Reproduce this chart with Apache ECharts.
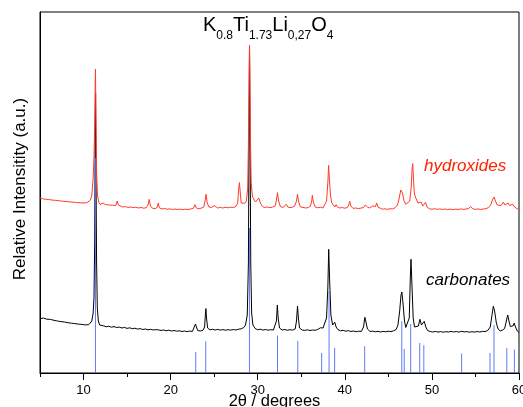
<!DOCTYPE html>
<html>
<head>
<meta charset="utf-8">
<script src="https://cdn.jsdelivr.net/npm/echarts@6/dist/echarts.min.js"></script>
<style>html,body{margin:0;padding:0;background:#fff;}#c{width:523px;height:407px;}</style>
</head>
<body>
<div id="c"></div>
<script>
// ---- data (2θ in degrees, intensity in arbitrary units) ----
const seriesNames = ['hydroxides', 'carbonates'];
const xTickLabels = [10, 20, 30, 40, 50, 60];

const carbonates = [
[5.0,54.5],[5.2,52.8],[5.4,54.9],[5.6,53.0],[5.8,53.8],[6.0,52.2],[6.2,53.6],[6.4,51.8],[6.6,52.7],[6.8,51.2],
[7.0,52.0],[7.2,50.6],[7.4,51.4],[7.6,50.2],[7.8,51.0],[8.0,49.6],[8.2,50.3],[8.4,49.0],[8.6,49.8],[8.8,48.6],
[9.0,49.4],[9.2,48.2],[9.4,48.9],[9.6,47.8],[9.8,48.6],[10.0,47.4],[10.2,48.1],[10.4,47.6],[10.6,48.4],[10.8,49.5],
[10.95,52],[11.1,60],[11.2,75],[11.28,130],[11.34,240],[11.38,280],[11.43,200],[11.5,110],[11.58,65],[11.7,52],
[11.85,48],[12.0,46.8],[12.3,47.2],[12.6,46.2],[12.9,46.8],[13.2,45.8],[13.5,46.4],[13.8,45.5],[14.1,45.9],[14.4,45.0],
[14.7,45.6],[15.0,44.6],[15.3,45.2],[15.6,44.3],[15.9,44.8],[16.2,43.9],[16.5,44.4],[16.8,43.5],[17.1,44.0],[17.4,43.2],
[17.7,43.7],[18.0,43.0],[18.3,43.4],[18.45,45.2],[18.6,43.1],[18.9,42.6],[19.2,43.0],[19.5,42.3],[19.8,42.8],[20.1,42.0],
[20.4,42.5],[20.7,41.8],[21.0,42.2],[21.3,41.5],[21.6,42.0],[21.9,41.4],[22.2,41.9],[22.5,41.6],[22.7,42.8],[22.85,49],
[22.95,47],[23.1,42.5],[23.4,42.0],[23.7,42.6],[23.9,46],[24.0,60],[24.05,64.4],[24.12,55],[24.25,45],[24.5,43.2],
[24.8,43.7],[25.1,43.0],[25.4,43.6],[25.7,42.9],[26.0,43.4],[26.3,42.8],[26.6,43.3],[26.9,42.9],[27.2,43.5],[27.5,43.0],
[27.8,43.8],[28.1,44.2],[28.4,45.5],[28.6,48],[28.8,58],[28.93,110],[29.0,240],[29.06,320],[29.12,230],[29.2,110],
[29.3,60],[29.45,48],[29.7,44.5],[30.0,43.2],[30.3,43.8],[30.6,42.9],[30.9,43.5],[31.2,42.8],[31.5,43.3],[31.8,43.0],
[32.0,44.5],[32.15,52],[32.25,68],[32.35,55],[32.5,45],[32.8,43.0],[33.1,43.5],[33.4,42.7],[33.7,43.3],[34.0,42.9],
[34.3,44],[34.45,52],[34.57,67],[34.67,55],[34.8,45],[35.1,43.0],[35.4,42.6],[35.7,43.2],[36.0,42.5],[36.3,43.0],
[36.6,42.7],[36.9,43.6],[37.2,45.2],[37.35,46],[37.5,45],[37.7,47],[37.9,55],[38.05,85],[38.15,123.7],[38.25,95],
[38.4,58],[38.6,48],[38.85,50.7],[39.0,46],[39.2,43.5],[39.5,42.2],[39.8,42.7],[40.1,41.8],[40.4,42.4],[40.7,41.5],
[41.0,42.0],[41.3,41.3],[41.6,41.8],[41.9,41.6],[42.15,46],[42.3,55.7],[42.4,52],[42.6,44],[42.9,41.5],[43.2,41.9],
[43.5,41.2],[43.8,41.7],[44.1,41.0],[44.4,41.6],[44.7,41.2],[45.0,41.8],[45.3,41.4],[45.6,42.2],[45.9,43.5],[46.1,48],
[46.3,62],[46.45,78],[46.55,81],[46.7,68],[46.85,52],[47.0,45.5],[47.2,44.5],[47.4,55],[47.52,95],[47.6,113.7],
[47.7,90],[47.85,55],[48.0,46],[48.2,44],[48.45,47],[48.62,53.7],[48.8,48],[48.95,47],[49.12,51.7],[49.3,46],
[49.5,42.5],[49.8,41.5],[50.1,41.0],[50.4,41.6],[50.7,40.9],[51.0,41.4],[51.3,40.8],[51.6,41.3],[51.9,41.0],[52.2,41.6],
[52.5,41.0],[52.8,41.5],[53.1,40.9],[53.4,41.7],[53.7,41.1],[54.0,41.4],[54.3,40.8],[54.6,41.3],[54.9,40.9],[55.2,41.5],
[55.5,41.0],[55.8,41.6],[56.1,41.4],[56.4,42.5],[56.7,46],[56.9,58],[57.05,66.7],[57.2,62],[57.4,50],[57.6,44],
[57.85,42],[58.1,42.8],[58.35,44.5],[58.55,52],[58.7,58],[58.85,52],[59.0,46.5],[59.15,44.8],[59.3,47],[59.45,50],
[59.6,46],[59.8,42],[60.0,40.5]
];

const hydroxides = [
[5.0,175],[5.15,176.5],[5.3,174.2],[5.45,175.6],[5.6,173.8],[5.8,175.0],[6.0,173.5],[6.2,174.4],[6.4,172.9],[6.6,173.8],
[6.8,172.6],[7.0,173.3],[7.2,172.2],[7.4,172.9],[7.6,171.8],[7.8,172.5],[8.0,171.5],[8.2,172.1],[8.4,171.1],[8.6,171.7],
[8.8,170.8],[9.0,171.4],[9.2,170.5],[9.4,171.0],[9.6,170.2],[9.8,170.8],[10.0,170.0],[10.2,170.5],[10.4,170.3],[10.6,171],
[10.8,173],[10.95,178],[11.1,195],[11.2,215],[11.28,250],[11.34,290],[11.37,303.7],[11.42,260],[11.5,200],[11.6,178],
[11.75,171],[11.9,168.5],[12.1,168.0],[12.25,170],[12.36,172],[12.5,168.5],[12.7,167.5],[12.9,168.0],[13.1,167.2],[13.3,167.8],
[13.5,167.0],[13.7,167.5],[13.86,172],[14.0,168],[14.2,166.5],[14.5,166.0],[14.8,166.4],[15.1,165.6],[15.4,166.0],[15.7,165.3],
[16.0,165.8],[16.3,165.0],[16.6,165.5],[16.9,164.8],[17.2,165.3],[17.4,168],[17.54,173.7],[17.68,167],[17.9,164.8],[18.2,164.3],
[18.45,165.5],[18.58,170],[18.7,165.2],[19.0,164.0],[19.3,164.5],[19.6,163.7],[19.9,164.2],[20.2,163.5],[20.5,164.0],[20.8,163.4],
[21.1,163.9],[21.4,163.3],[21.7,163.8],[22.0,163.5],[22.3,164.0],[22.6,164.6],[22.8,168.4],[22.95,165],[23.2,164.2],[23.5,164.8],
[23.8,166],[23.95,172],[24.07,178.7],[24.2,170],[24.4,166],[24.7,165.5],[24.9,166.5],[25.0,167.4],[25.15,165.5],[25.4,165.0],
[25.7,165.6],[26.0,165.0],[26.3,165.7],[26.6,165.2],[26.9,165.8],[27.2,165.5],[27.5,166.5],[27.7,170],[27.82,185],[27.9,190.4],
[27.98,182],[28.1,170],[28.3,168],[28.5,169.7],[28.7,172],[28.85,185],[28.95,240],[29.02,310],[29.06,327.7],[29.1,300],
[29.17,230],[29.25,190],[29.4,176],[29.55,174.7],[29.75,171],[29.95,173],[30.13,175],[30.3,170],[30.55,166.5],[30.8,165.5],
[31.1,166.0],[31.4,165.3],[31.7,165.9],[32.0,167],[32.15,173],[32.27,180.4],[32.4,172],[32.6,166.5],[32.9,165.5],[33.1,166],
[33.27,168.7],[33.45,166],[33.7,165.4],[34.0,165.9],[34.25,167],[34.45,172],[34.57,178.7],[34.7,171],[34.9,166],[35.2,165.6],
[35.5,165.0],[35.8,165.5],[36.05,167],[36.2,172],[36.27,177.7],[36.38,171],[36.6,166],[36.9,165.2],[37.2,165.8],[37.5,165.0],
[37.7,166],[37.9,172],[38.05,190],[38.14,207.7],[38.22,195],[38.35,178],[38.5,170],[38.7,168.4],[38.85,166],[39.0,168.4],
[39.15,166],[39.4,165.0],[39.7,165.5],[40.0,164.8],[40.3,165.6],[40.45,168],[40.56,171.7],[40.7,167],[40.95,164.6],[41.25,165.0],
[41.55,164.4],[41.85,164.9],[42.15,165.5],[42.35,168],[42.45,169.4],[42.6,166],[42.85,165],[43.05,165.8],[43.2,167],[43.35,165],
[43.52,166.5],[43.66,170],[43.8,166],[44.0,164.3],[44.3,163.8],[44.6,164.2],[44.9,163.7],[45.2,164.3],[45.5,164.0],[45.8,165.5],
[46.05,168],[46.25,175],[46.42,183],[46.5,185],[46.62,180],[46.8,172],[47.0,168.7],[47.2,168],[47.45,172],[47.62,185],
[47.73,205],[47.8,209.4],[47.88,195],[47.98,180],[48.1,176],[48.2,174],[48.4,170],[48.6,168],[48.77,170.7],[48.95,167],
[49.1,167.5],[49.27,170.7],[49.45,166],[49.7,164.2],[50.0,163.8],[50.3,164.3],[50.6,163.6],[50.9,164.1],[51.2,163.5],[51.5,164.0],
[51.8,163.4],[52.1,163.9],[52.4,163.3],[52.7,163.8],[53.0,163.5],[53.3,164.1],[53.6,163.6],[53.9,164.0],[54.2,164.4],[54.45,166.4],
[54.7,164.2],[55.0,163.6],[55.3,164.1],[55.6,163.5],[55.9,164.0],[56.2,164.3],[56.5,165.5],[56.75,168],[56.95,173],[57.13,176],
[57.3,172],[57.5,168],[57.7,168.7],[57.95,167.5],[58.2,170.7],[58.4,168],[58.6,168.5],[58.75,170],[58.9,167.5],[59.1,168],
[59.3,168.7],[59.5,166],[59.75,164.5],[60.0,163.4]
];

// reference pattern sticks
const refPositions = [11.37, 22.88, 24.03, 29.05, 32.27, 34.60, 37.34, 38.19, 38.83, 42.28,
                      46.54, 46.82, 47.56, 48.60, 49.07, 53.41, 56.67, 57.13, 58.60, 59.47];
const refHeights   = [215, 21, 31.7, 145, 37.4, 32, 20, 82, 25, 26.7,
                      51.7, 24, 49, 30, 27.7, 19.4, 20, 48, 25, 23.4];

const FONT = '"Liberation Sans", Arial, sans-serif';
const chart = echarts.init(document.getElementById('c'), null, {renderer: 'canvas'});
chart.setOption({
  animation: false,
  backgroundColor: '#fff',
  title: {
    text: '{m|K}{s|0.8}{m|Ti}{s|1.73}{m|Li}{s|0,27}{m|O}{s|4}',
    left: 203, top: 15, padding: 0,
    textStyle: {
      fontWeight: 'normal',
      rich: {
        m: {fontSize: 20, lineHeight: 27, fontFamily: FONT, fontWeight: 'normal', color: '#000', verticalAlign: 'top'},
        s: {fontSize: 12, lineHeight: 13, fontFamily: FONT, fontWeight: 'normal', color: '#000', verticalAlign: 'bottom'}
      }
    }
  },
  grid: {left: 40, right: 4, top: 12, bottom: 34, show: true, borderColor: '#000', borderWidth: 1,
         containLabel: false, outerBoundsMode: 'none'},
  xAxis: [{
    type: 'value', min: 5, max: 60, interval: 5, position: 'bottom',
    axisLine: {show: true, lineStyle: {color: '#000', width: 1}},
    axisTick: {show: true, length: 4, lineStyle: {color: '#000'}},
    axisLabel: {
      fontSize: 13, color: '#000', fontFamily: FONT, margin: 11,
      customValues: xTickLabels, hideOverlap: false
    },
    splitLine: {show: false},
    name: '2θ / degrees', nameLocation: 'middle', nameGap: 20, nameMoveOverlap: false,
    nameTextStyle: {fontSize: 16.5, color: '#000', fontFamily: FONT, padding: [0, 10, 0, 0]}
  }, {
    type: 'value', min: 5, max: 60, interval: 5, position: 'bottom',
    axisLine: {show: false},
    axisTick: {show: true, length: 7, lineStyle: {color: '#000'}, customValues: xTickLabels},
    axisLabel: {show: false},
    splitLine: {show: false}
  }],
  yAxis: {
    type: 'value', min: 0, max: 361,
    axisLine: {show: true, lineStyle: {color: '#000'}},
    axisTick: {show: false}, axisLabel: {show: false}, splitLine: {show: false},
    name: 'Relative Intensitity (a.u.)', nameLocation: 'middle', nameGap: 11, nameMoveOverlap: false,
    nameTextStyle: {fontSize: 17, color: '#000', fontFamily: FONT, padding: [0, 0, 0, 7]}
  },
  series: [
    {
      name: seriesNames[1], type: 'line', data: carbonates, showSymbol: false, symbol: 'none',
      lineStyle: {color: '#000', width: 1}, z: 2
    },
    {
      name: seriesNames[0], type: 'line', data: hydroxides, showSymbol: false, symbol: 'none',
      lineStyle: {color: '#ff3a2a', width: 1}, z: 3
    },
    {
      name: 'reference', type: 'bar', barWidth: 1,
      data: refPositions.map((p, i) => [p, refHeights[i]]),
      itemStyle: {color: '#4d6ff2', opacity: 0.9}, z: 4
    }
  ],
  graphic: [
    {type: 'text', x: 424, y: 166, z: 10,
     style: {text: seriesNames[0], font: 'italic 17px "Liberation Sans", Arial, sans-serif', fill: '#ff2200', align: 'left', verticalAlign: 'middle'}},
    {type: 'text', x: 426, y: 280, z: 10,
     style: {text: seriesNames[1], font: 'italic 17px "Liberation Sans", Arial, sans-serif', fill: '#000', align: 'left', verticalAlign: 'middle'}}
  ]
});
</script>
</body>
</html>
